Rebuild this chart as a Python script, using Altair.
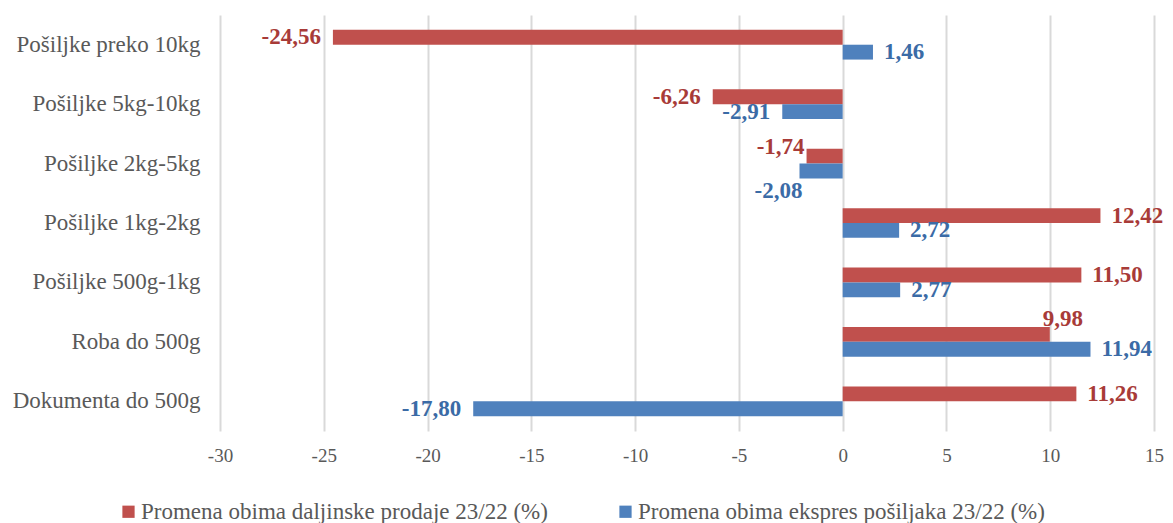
import altair as alt
import pandas as pd

categories = ["Pošiljke preko 10kg", "Pošiljke 5kg-10kg", "Pošiljke 2kg-5kg",
              "Pošiljke 1kg-2kg", "Pošiljke 500g-1kg", "Roba do 500g", "Dokumenta do 500g"]
series_names = ["Promena obima daljinske prodaje 23/22 (%)",
                "Promena obima ekspres pošiljaka 23/22 (%)"]
daljinska = [-24.56, -6.26, -1.74, 12.42, 11.50, 9.98, 11.26]
ekspres = [1.46, -2.91, -2.08, 2.72, 2.77, 11.94, -17.80]
x_ticks = [-30, -25, -20, -15, -10, -5, 0, 5, 10, 15]

rows = []
for c, v in zip(categories, daljinska):
    rows.append({"cat": c, "series": series_names[0], "v": v})
for c, v in zip(categories, ekspres):
    rows.append({"cat": c, "series": series_names[1], "v": v})
df = pd.DataFrame(rows)

FONT = "Liberation Serif"
bar_colors = ["#C0504D", "#4F81BD"]
label_colors = ["#A83B38", "#3B6BA6"]

y_enc = alt.Y("cat:N", sort=categories,
              scale=alt.Scale(paddingInner=0.5, paddingOuter=0.25),
              axis=alt.Axis(title=None, domain=False, ticks=False, labelFont=FONT,
                            labelFontSize=23, labelColor="#595959", labelPadding=20,
                            labelLimit=400))
yoff = alt.YOffset("series:N", sort=series_names)
x_enc = alt.X("v:Q", scale=alt.Scale(domain=[-30, 15], nice=False),
              axis=alt.Axis(title=None, values=x_ticks, domain=False, ticks=False,
                            labelExpr="'' + datum.value", labelFont=FONT, labelFontSize=19,
                            labelColor="#595959", labelPadding=15, labelFlush=False,
                            gridColor="#D9D9D9", gridWidth=2))

base = alt.Chart(df)

bars = base.mark_bar().encode(
    y=y_enc, yOffset=yoff, x=x_enc,
    color=alt.Color("series:N", sort=series_names,
                    scale=alt.Scale(domain=series_names, range=bar_colors),
                    legend=alt.Legend(title=None, orient="none", direction="horizontal",
                                      legendX=-103, legendY=485, symbolType="square",
                                      symbolSize=150, symbolStrokeWidth=0,
                                      labelFont=FONT, labelFontSize=23, labelColor="#595959",
                                      labelLimit=600, columnPadding=66, labelOffset=1)),
)

lab = base.transform_calculate(
    label="(datum.v < 0 ? '-' : '') + replace(format(abs(datum.v), '.2f'), '.', ',')"
)
txt_color = alt.Color("series:N", scale=alt.Scale(domain=series_names, range=label_colors),
                      legend=None)
ycat = alt.Y("cat:N", sort=categories)
special = ("(datum.cat == 'Pošiljke 2kg-5kg') || "
           "(datum.cat == 'Roba do 500g' && datum.v < 10)")
tstyle = dict(baseline="middle", font=FONT, fontSize=23, fontWeight="bold")
enc = dict(y=ycat, yOffset=yoff, x="v:Q", text="label:N", color=txt_color)

pos = lab.transform_filter(f"datum.v >= 0 && !({special})").mark_text(
    align="left", dx=11, **tstyle).encode(**enc)
neg = lab.transform_filter(f"datum.v < 0 && !({special})").mark_text(
    align="right", dx=-12, **tstyle).encode(**enc)
# labels moved by the layout to avoid collisions (as in the original)
up_left = lab.transform_filter(
    f"datum.cat == 'Pošiljke 2kg-5kg' && datum.series == '{series_names[0]}'").mark_text(
    align="right", dx=-2, dy=-9, **tstyle).encode(**enc)
down_left = lab.transform_filter(
    f"datum.cat == 'Pošiljke 2kg-5kg' && datum.series == '{series_names[1]}'").mark_text(
    align="right", dx=3, dy=20, **tstyle).encode(**enc)
up_right = lab.transform_filter("datum.cat == 'Roba do 500g' && datum.v < 10").mark_text(
    align="left", dx=-7, dy=-15, **tstyle).encode(**enc)

chart = alt.layer(bars, pos, neg, up_left, down_left, up_right).resolve_scale(
    color="independent").properties(
    width=934, height=416,
    autosize=alt.AutoSizeParams(type="none"),
    padding={"left": 212, "top": 7, "right": 11, "bottom": 99},
).configure_view(stroke=None)

chart.save("out.html", embed_options={"renderer": "svg", "actions": False})
